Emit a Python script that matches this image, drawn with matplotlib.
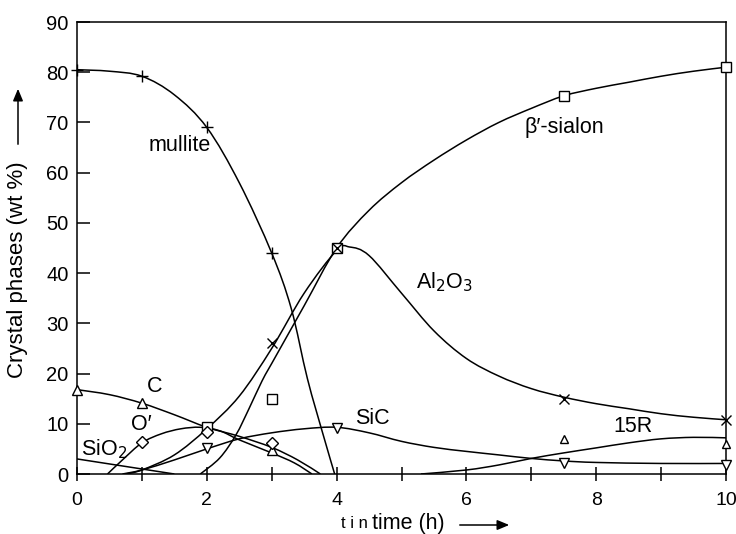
import numpy as np
import matplotlib
matplotlib.use("Agg")
import matplotlib.pyplot as plt
from matplotlib.path import Path
from matplotlib.patches import PathPatch, FancyArrowPatch

plt.rcParams['font.family'] = ['Liberation Sans', 'DejaVu Sans']

# ---- fitted curves ----
mullite_cx = [0, 0.5, 1, 1.5, 2, 2.5, 3, 3.3, 3.55, 3.8, 3.97]
mullite_cy = [80.5, 80.2, 79.2, 75.5, 69, 58, 44, 33, 19, 7.5, 0]

sialon_cx = [1.9, 2.2, 2.45, 2.65, 2.85, 3, 3.5, 4, 4.5, 5, 5.5, 6, 6.5, 7, 7.5, 8, 8.5, 9, 9.5, 10]
sialon_cy = [0, 3.2, 7.8, 13, 18.5, 22, 33.5, 45, 52.5, 58, 62.5, 66.5, 70, 72.8, 75.3, 76.8, 78, 79.2, 80.2, 81]

al2o3_cx = [0.75, 1, 1.5, 2, 2.5, 3, 3.5, 4, 4.2, 4.5, 5, 5.5, 6, 6.5, 7, 7.5, 8, 8.5, 9, 9.5, 10]
al2o3_cy = [0, 0.8, 3.8, 9, 15.5, 25, 36, 44.5, 45.2, 43.5, 36, 28.5, 23, 19.5, 17, 15.3, 14, 13, 12, 11.3, 10.8]

c_cx = [0, 0.5, 1, 1.5, 2, 2.5, 3, 3.4, 3.75]
c_cy = [16.8, 15.8, 14.1, 11.8, 9.3, 7.5, 5.3, 2.8, 0]

o_cx = [0.47, 0.7, 1, 1.3, 1.6, 1.9, 2.2, 2.5, 3, 3.35, 3.62]
o_cy = [0, 2.8, 6.2, 8, 9, 9.3, 8.6, 6.8, 4.2, 2.2, 0]

sio2_cx = [0, 0.5, 1, 1.25, 1.5]
sio2_cy = [3, 2, 1, 0.5, 0]

sic_cx = [0.7, 1, 1.5, 2, 2.5, 3, 3.5, 4, 4.5, 5, 5.5, 6, 6.5, 7, 7.5, 8, 9, 10]
sic_cy = [0, 0.8, 2.8, 5, 7, 8.2, 9, 9.3, 8.2, 6.5, 5.3, 4.5, 3.8, 3.1, 2.6, 2.3, 2.1, 2.1]

r15_cx = [5.3, 6, 6.5, 7, 7.5, 8, 8.5, 9, 9.5, 10]
r15_cy = [0, 0.8, 1.8, 3.1, 4.2, 5.2, 6.2, 7, 7.3, 7.2]

# ---- measured points (markers) ----
mullite_x = [0, 1, 2, 3]
mullite_y = [80.5, 79.2, 69, 44]
sialon_x = [2, 3, 4, 7.5, 10]
sialon_y = [9.3, 15, 45, 75.3, 81]
al2o3_x = [3, 4, 7.5, 10]
al2o3_y = [26, 45, 15, 10.8]
c_x = [0, 1, 3]
c_y = [16.8, 14.1, 4.8]
o_x = [1, 2, 3]
o_y = [6.3, 8.3, 6.1]
sic_x = [2, 4, 7.5, 10]
sic_y = [5.1, 9.1, 2.2, 1.8]
r15_x = [7.5, 10]
r15_y = [7.0, 6.0]

xticks = [0, 2, 4, 6, 8, 10]
yticks = [0, 10, 20, 30, 40, 50, 60, 70, 80, 90]

W, H = 736, 534
fig = plt.figure(figsize=(W / 100, H / 100), dpi=100)
ax = fig.add_axes([77 / W, 1 - 474 / H, (726 - 77) / W, (474 - 22) / H])
ax.set_xlim(0, 10)
ax.set_ylim(0, 90)


def smooth(ax, xs, ys):
    p = np.column_stack([xs, ys]).astype(float)
    n = len(p)
    verts = [p[0]]
    codes = [Path.MOVETO]
    for i in range(n - 1):
        p0 = p[i - 1] if i > 0 else p[i]
        p1 = p[i]
        p2 = p[i + 1]
        p3 = p[i + 2] if i + 2 < n else p[i + 1]
        c1 = p1 + (p2 - p0) / 6.0
        c2 = p2 - (p3 - p1) / 6.0
        verts += [c1, c2, p2]
        codes += [Path.CURVE4] * 3
    patch = PathPatch(Path(verts, codes), fill=False, edgecolor='black', lw=1.1,
                      transform=ax.transData)
    ax.add_patch(patch)


for cx, cy in [(mullite_cx, mullite_cy), (sialon_cx, sialon_cy), (al2o3_cx, al2o3_cy),
               (c_cx, c_cy), (o_cx, o_cy), (sio2_cx, sio2_cy), (sic_cx, sic_cy),
               (r15_cx, r15_cy)]:
    smooth(ax, cx, cy)

mk = dict(ls='none', color='black', mfc='white', mec='black', mew=1.0, clip_on=False, zorder=5)
ax.plot(mullite_x, mullite_y, marker='+', ms=8, **mk)
ax.plot(sialon_x, sialon_y, marker='s', ms=7, **mk)
ax.plot(al2o3_x, al2o3_y, marker='x', ms=7, **mk)
ax.plot(c_x, c_y, marker='^', ms=7, **mk)
ax.plot(o_x, o_y, marker='D', ms=6, **mk)
ax.plot(sic_x, sic_y, marker='v', ms=7, **mk)
ax.plot(r15_x, r15_y, marker='^', ms=6, **mk)

ax.set_xticks(xticks)
ax.set_xticks([1, 3, 5, 7, 9], minor=True)
ax.set_yticks(yticks)
ax.tick_params(axis='x', which='both', direction='inout', length=10, width=1.1, pad=8, labelsize=14)
ax.tick_params(axis='y', which='both', direction='in', length=9, width=1.1, pad=6, labelsize=14.5)
for s in ax.spines.values():
    s.set_linewidth(1.1)

fs = 15.5
ax.text(1.58, 65.5, 'mullite', fontsize=fs, ha='center', va='center')
ax.text(7.51, 69, "β′-sialon", fontsize=fs, ha='center', va='center')
ax.text(5.66, 38.2, 'Al$_2$O$_3$', fontsize=fs, ha='center', va='center')
ax.text(1.2, 17.4, 'C', fontsize=fs, ha='center', va='center')
ax.text(0.99, 9.8, 'O′', fontsize=fs, ha='center', va='center')
ax.text(0.42, 5.0, 'SiO$_2$', fontsize=fs, ha='center', va='center')
ax.text(4.55, 11.1, 'SiC', fontsize=fs, ha='center', va='center')
ax.text(8.57, 9.4, '15R', fontsize=fs, ha='center', va='center')

# axis labels with arrows
fig.text(18 / W, 1 - 270 / H, 'Crystal phases (wt %)', rotation=90, fontsize=16,
         ha='center', va='center')
fig.add_artist(FancyArrowPatch(
    (18 / W, 1 - 147 / H), (18 / W, 1 - 86 / H), transform=fig.transFigure,
    arrowstyle='-|>,head_length=0.6,head_width=0.25', mutation_scale=12, lw=1.1, color='black'))
fig.text(368 / W, 1 - 524 / H, 't i n', fontsize=12, ha='right', va='center')
fig.text(372 / W, 1 - 523 / H, 'time (h)', fontsize=15.5, ha='left', va='center')
fig.add_artist(FancyArrowPatch(
    (457 / W, 1 - 525 / H), (512 / W, 1 - 525 / H), transform=fig.transFigure,
    arrowstyle='-|>,head_length=0.6,head_width=0.25', mutation_scale=12, lw=1.1, color='black'))

fig.savefig('out.png', dpi=100)
